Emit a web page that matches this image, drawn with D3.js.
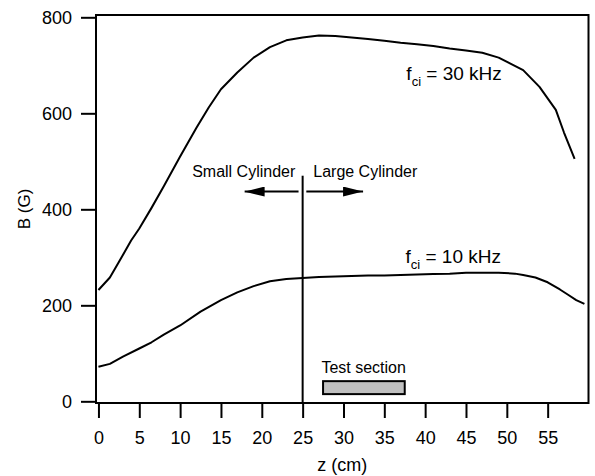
<!DOCTYPE html>
<html>
<head>
<meta charset="utf-8">
<script src="https://cdn.jsdelivr.net/npm/d3@7"></script>
<style>
  html, body { margin: 0; padding: 0; background: #fff; }
  svg { display: block; font-family: "Liberation Sans", Arial, Helvetica, sans-serif; }
</style>
</head>
<body>
<svg id="chart" width="595" height="476"></svg>
<script>
// ---- Data ----
const zHigh = [0, 1.4, 2.5, 4, 5, 6.5, 8, 10, 12, 13.5, 15, 17, 19, 21, 23, 25, 27, 29, 31, 33, 35, 37, 39, 41, 43, 45, 47, 49, 50.5, 52, 54, 56, 57, 58.3];
const bHigh = [232, 258, 290, 335, 360, 403, 448, 510, 570, 612, 650, 685, 716, 738, 752, 758, 762, 761, 758, 755, 751, 747, 744, 740, 735, 731, 726, 716, 703, 690, 655, 607, 560, 505];
const zLow  = [0, 1.4, 3, 5, 6.5, 8, 10, 12.5, 15, 17, 19, 21, 23, 25, 27, 29, 31, 33, 35, 37, 39, 41, 43, 45, 47, 49, 51, 52, 53.5, 55, 56.5, 57.5, 58.5, 59.5];
const bLow  = [72, 78, 93, 110, 123, 139, 158, 187, 211, 227, 240, 250, 255, 257, 259, 260, 261, 262, 262, 263, 264, 265, 266, 268, 268, 268, 266, 263, 258, 248, 233, 222, 211, 203];
const xTicks = [0, 5, 10, 15, 20, 25, 30, 35, 40, 45, 50, 55];
const yTicks = [0, 200, 400, 600, 800];
const seriesLabels = ["30 kHz", "10 kHz"];
const boundaryZ = 25;
const testSection = [27.5, 37.5];

// ---- Layout ----
const svg = d3.select("#chart");
const mLeft = 96, mRight = 588.5, mTop = 15, mBottom = 403;
const x = d3.scaleLinear().domain([-0.3, 60]).range([mLeft, mRight]);
const y = d3.scaleLinear().domain([-3.5, 804.8]).range([mBottom, mTop]);

// frame
svg.append("rect")
  .attr("x", mLeft).attr("y", mTop)
  .attr("width", mRight - mLeft).attr("height", mBottom - mTop)
  .attr("fill", "none").attr("stroke", "#000").attr("stroke-width", 2);

// y axis
const yAxis = svg.append("g")
  .attr("transform", `translate(${mLeft},0)`)
  .call(d3.axisLeft(y).tickValues(yTicks).tickSize(15).tickPadding(9).tickSizeOuter(0));
yAxis.select(".domain").remove();
yAxis.selectAll(".tick line").attr("stroke", "#000").attr("stroke-width", 2);
yAxis.selectAll(".tick text").attr("font-size", 18).attr("fill", "#000")
  .attr("font-family", "Liberation Sans, Arial, sans-serif");

// x axis
const xAxis = svg.append("g")
  .attr("transform", `translate(0,${mBottom})`)
  .call(d3.axisBottom(x).tickValues(xTicks).tickSize(15).tickPadding(13).tickSizeOuter(0));
xAxis.select(".domain").remove();
xAxis.selectAll(".tick line").attr("stroke", "#000").attr("stroke-width", 2);
xAxis.selectAll(".tick text").attr("font-size", 18).attr("fill", "#000")
  .attr("font-family", "Liberation Sans, Arial, sans-serif");

// axis titles
svg.append("text")
  .attr("x", (mLeft + mRight) / 2).attr("y", 471)
  .attr("text-anchor", "middle").attr("font-size", 18)
  .text("z (cm)");
svg.append("text")
  .attr("transform", `translate(30,${(mTop + mBottom) / 2}) rotate(-90)`)
  .attr("text-anchor", "middle").attr("font-size", 17)
  .text("B (G)");

// curves
const line = d3.line().x(d => x(d[0])).y(d => y(d[1]));
[[zHigh, bHigh], [zLow, bLow]].forEach(([zs, bs]) => {
  svg.append("path")
    .datum(zs.map((z, i) => [z, bs[i]]))
    .attr("d", line)
    .attr("fill", "none").attr("stroke", "#000").attr("stroke-width", 2)
    .attr("stroke-linejoin", "round");
});

// curve labels
function fciLabel(px, py, val) {
  const t = svg.append("text").attr("x", px).attr("y", py).attr("font-size", 19);
  t.append("tspan").text("f");
  t.append("tspan").attr("font-size", 13).attr("dy", 6).text("ci");
  t.append("tspan").attr("dy", -6).text(" = " + val);
}
fciLabel(x(37.7), y(670), seriesLabels[0]);
fciLabel(x(37.6), y(288), seriesLabels[1]);

// boundary line
svg.append("line")
  .attr("x1", x(boundaryZ)).attr("x2", x(boundaryZ))
  .attr("y1", y(470)).attr("y2", mBottom)
  .attr("stroke", "#000").attr("stroke-width", 2);

svg.append("text")
  .attr("x", x(24.1)).attr("y", y(468)).attr("text-anchor", "end").attr("font-size", 16)
  .text("Small Cylinder");
svg.append("text")
  .attr("x", x(26.3)).attr("y", y(468)).attr("text-anchor", "start").attr("font-size", 16)
  .text("Large Cylinder");

// arrows
const defs = svg.append("defs");
defs.append("marker")
  .attr("id", "arrow").attr("viewBox", "0 0 20 10")
  .attr("refX", 20).attr("refY", 5)
  .attr("markerWidth", 20).attr("markerHeight", 10)
  .attr("markerUnits", "userSpaceOnUse")
  .attr("orient", "auto")
  .append("path").attr("d", "M0,0 L20,5 L0,10 Z").attr("fill", "#000");

const arrowB = 437;
svg.append("line")
  .attr("x1", x(24.5)).attr("x2", x(17.9))
  .attr("y1", y(arrowB)).attr("y2", y(arrowB))
  .attr("stroke", "#000").attr("stroke-width", 2).attr("marker-end", "url(#arrow)");
svg.append("line")
  .attr("x1", x(25.45)).attr("x2", x(32.4))
  .attr("y1", y(arrowB)).attr("y2", y(arrowB))
  .attr("stroke", "#000").attr("stroke-width", 2).attr("marker-end", "url(#arrow)");

// test section
svg.append("rect")
  .attr("x", x(testSection[0])).attr("y", y(42))
  .attr("width", x(testSection[1]) - x(testSection[0]))
  .attr("height", y(15) - y(42))
  .attr("fill", "#c0c0c0").attr("stroke", "#000").attr("stroke-width", 2);
svg.append("text")
  .attr("x", x(27.3)).attr("y", y(58)).attr("font-size", 16)
  .text("Test section");
</script>
</body>
</html>
